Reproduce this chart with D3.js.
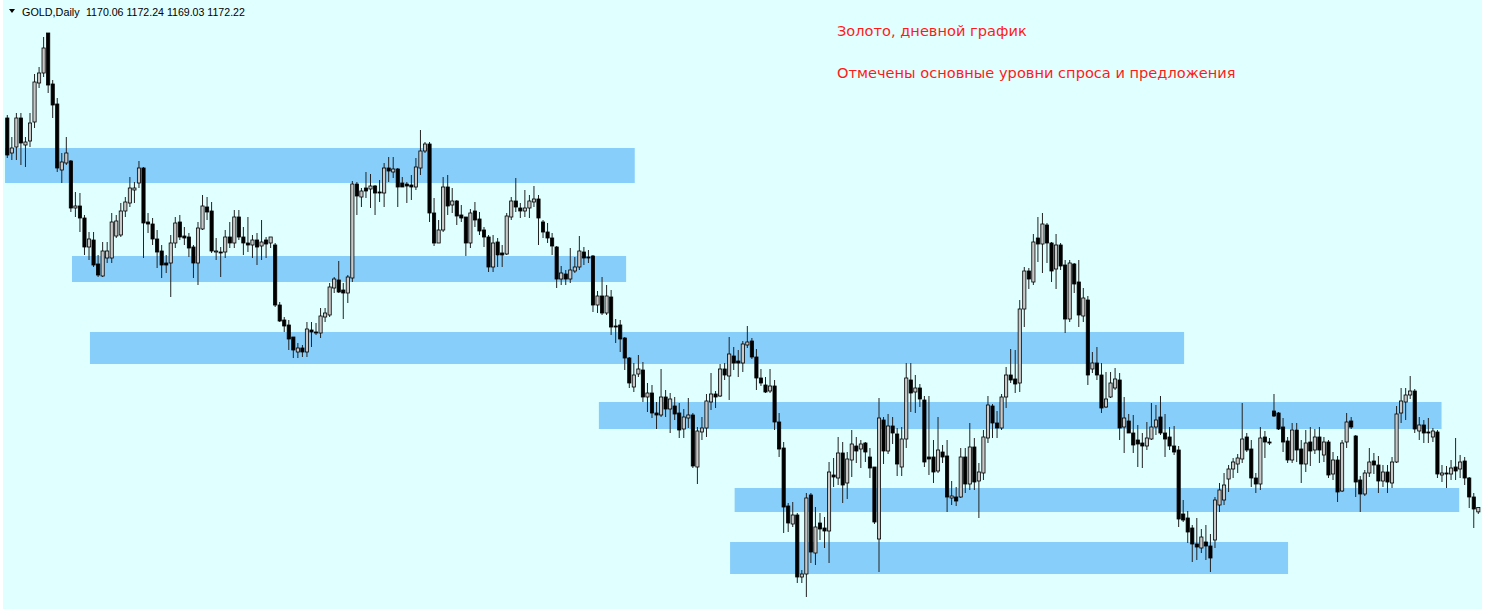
<!DOCTYPE html>
<html>
<head>
<meta charset="utf-8">
<script src="https://cdn.jsdelivr.net/npm/d3@7/dist/d3.min.js"></script>
<style>
  html, body { margin: 0; padding: 0; background: #fff; }
  svg { display: block; }
</style>
</head>
<body>
<svg id="chart" width="1491" height="610"></svg>
<script>
'use strict';

// GOLD, Daily -- OHLC, oldest first
var opens = [
  1367,1349.5,1352.5,1367,1353.5,1355.5,1365,1384.5,1389.5,1409.5,
  1384,1374,1341,1344.5,1345.5,1322,1323,1317,1302.5,1306,
  1294,1288,1297,1297,1308,1308.5,1320.5,1324.5,1331,1334.5,
  1342,1315,1314,1306.5,1300.5,1294.5,1294.5,1304.5,1315,1308,
  1307.5,1302.5,1294.5,1311.5,1322.5,1320.5,1300,1300,1300,1307.5,
  1304.5,1317.5,1307.5,1304.5,1303.5,1306,1303,1306,1304.5,1303.5,
  1273.5,1266,1263.5,1257.5,1250,1252,1250,1261,1260,1259.5,
  1267.5,1268.5,1282,1286,1281,1279.5,1287,1334,1327.5,1332,
  1331.5,1333,1330,1329.5,1342,1340,1341.5,1334.5,1334,1333.5,
  1332.5,1342,1350.5,1354,1319.5,1304.5,1311,1332.5,1323.5,1325.5,
  1318.5,1317.5,1304.5,1320.5,1316.5,1311,1307.5,1292.5,1305,1299.5,
  1299,1317.5,1325.5,1322,1320.5,1322,1325,1326.5,1315,1310,
  1307,1302.5,1286.5,1289,1286.5,1290.5,1292.5,1300,1297.5,1298,
  1273.5,1278,1269.5,1277.5,1263,1263.5,1257,1247,1232.5,1239,
  1241,1227.5,1229.5,1219.5,1218.5,1227.5,1221.5,1223,1219.5,1211.5,
  1217,1218.5,1192.5,1210,1212,1225,1229,1228,1241.5,1238,
  1248,1245.5,1244.5,1253.5,1255.5,1247.5,1237,1233.5,1230.5,1233,
  1215,1202,1173,1164,1168.5,1137.5,1139,1178.5,1149.5,1164.5,
  1162,1160.5,1188.5,1187,1199.5,1184.5,1196,1203,1201.5,1204.5,
  1197.5,1192.5,1156.5,1216,1200.5,1213,1209,1192.5,1206.5,1236,
  1230,1232,1226,1197.5,1197.5,1190.5,1200,1198,1177,1177.5,
  1177.5,1197.5,1184,1202.5,1185.5,1189.5,1207,1223,1214.5,1212,
  1227.5,1238.5,1236.5,1234.5,1271.5,1290.5,1285,1307,1304,1313.5,
  1304.5,1291.5,1303.5,1293.5,1266.5,1294,1285,1268,1276,1241.5,
  1244.5,1238.5,1222.5,1227.5,1232,1236,1212.5,1215.5,1209.5,1206,
  1204.5,1203,1206.5,1212.5,1217.5,1209.5,1207.5,1203,1201,1169,
  1167,1162,1154,1152,1155,1153,1156,1173.5,1176,1186.5,
  1191.5,1194,1196.5,1207.5,1201.5,1187,1184,1207.5,1205,1220.5,
  1219.5,1212.5,1205.5,1196,1211,1201.5,1194,1205,1201,1207.5,
  1198.5,1205,1189,1196,1180.5,1205,1215.5,1208,1186,1179,
  1189.5,1195.5,1193.5,1185.5,1190,1184.5,1195,1219.5,1225,1228.5,
  1230.5,1210.5,1213.5,1210,1207.5,1210,1188.5,1189.5,1189,1192.5,
  1191.5,1195.5,1187,1177.5,1170.06
];
var highs = [
  1368.5,1357.5,1369.5,1369.5,1357.5,1369.5,1389,1392.5,1407.5,1409.5,
  1386,1377,1349.5,1357.5,1346,1330,1329.5,1318.5,1310,1310,
  1298.5,1305,1305,1319.5,1318.5,1324.5,1327.5,1337.5,1335,1345.5,
  1342.5,1319.5,1317,1311,1303.5,1298.5,1308.5,1317.5,1318.5,1312.5,
  1309.5,1303.5,1315,1328.5,1327.5,1325,1307,1302.5,1311,1315,
  1321,1321,1312.5,1317.5,1308.5,1309.5,1316,1307.5,1307.5,1304.5,
  1275,1267.5,1266,1257.5,1254.5,1253.5,1265,1265,1264.5,1272,
  1272,1284.5,1287.5,1295.5,1284.5,1288.5,1335.5,1335,1332,1340,
  1339,1333.5,1336,1344.5,1347.5,1347.5,1342,1337.5,1335,1338.5,
  1347,1361,1355,1355,1327,1316,1337.5,1338.5,1332,1326,
  1323.5,1317.5,1321.5,1325,1320,1312.5,1308.5,1308.5,1307,1303.5,
  1319.5,1327.5,1337,1324.5,1331,1328.5,1333,1328.5,1316,1314.5,
  1309.5,1303,1293,1291,1302,1297.5,1308,1302.5,1301,1298.5,
  1280.5,1287.5,1283.5,1281,1266.5,1266,1257.5,1247.5,1244.5,1248.5,
  1245,1234.5,1233.5,1225,1241.5,1231,1229.5,1227.5,1224.5,1221.5,
  1227,1219.5,1212.5,1217.5,1229,1239.5,1230.5,1244,1244.5,1257.5,
  1252.5,1251,1255.5,1263,1257,1251.5,1241.5,1237.5,1241.5,1236,
  1219.5,1205,1174.5,1175,1169.5,1141,1179.5,1179.5,1172.5,1169.5,
  1167.5,1195,1197,1207.5,1205,1200,1211,1207.5,1206,1205,
  1202,1192.5,1227,1217.5,1219,1217.5,1212,1212.5,1244.5,1244.5,
  1238.5,1234,1228,1228,1206,1217.5,1203.5,1206,1185.5,1182.5,
  1202,1202,1214.5,1207,1194.5,1211,1228,1224,1220.5,1229,
  1242.5,1251.5,1251,1276,1292.5,1292,1309,1317.5,1319.5,1314.5,
  1305,1309,1304.5,1296,1296,1294.5,1296,1282,1278,1250,
  1252.5,1244.5,1240,1240,1242,1239.5,1227.5,1219,1218.5,1213.5,
  1209.5,1215,1224.5,1223.5,1228,1219,1212.5,1213,1203,1176,
  1170.5,1163.5,1167,1161.5,1163.5,1159,1177.5,1184.5,1189.5,1193.5,
  1197,1199,1224.5,1209.5,1206,1189.5,1212.5,1210.5,1207,1229,
  1220,1217,1207.5,1214.5,1214.5,1206,1211,1212.5,1211.5,1212.5,
  1207.5,1206,1200,1198,1206,1219.5,1217.5,1208.5,1188,1191,
  1202,1199.5,1198,1193.5,1193.5,1197.5,1223,1232,1232,1238,
  1231.5,1217.5,1216,1217,1212,1211,1193.5,1193,1196,1207,
  1198.5,1197.5,1187.5,1179.5,1172.24
];
var lows = [
  1347,1346,1346,1343.5,1342.5,1352.5,1362,1382,1387.5,1379.5,
  1367,1340,1334.5,1343.5,1320,1317.5,1310,1298.5,1296,1292.5,
  1287.5,1287.5,1294.5,1294.5,1307,1307.5,1317.5,1322.5,1324.5,1332,
  1297,1309.5,1303.5,1292,1287,1289.5,1277.5,1302,1306,1303.5,
  1297.5,1287,1283.5,1311,1316,1299.5,1296,1287.5,1297,1302,
  1302,1306,1298.5,1300,1297,1293.5,1296,1297,1302,1272.5,
  1265,1260,1251,1247,1247,1247.5,1247.5,1252.5,1258.5,1257,
  1265,1267.5,1279.5,1279.5,1266.5,1274.5,1285,1318.5,1322.5,1327,
  1322,1318.5,1325,1322.5,1335,1337,1322.5,1332.5,1324.5,1326,
  1331,1338.5,1349.5,1315,1303,1304.5,1310,1318.5,1319.5,1313.5,
  1315,1298,1302,1312.5,1308.5,1302.5,1290,1290,1292.5,1292.5,
  1298.5,1316,1320,1317,1317.5,1317,1322.5,1303.5,1307,1304.5,
  1298.5,1282,1283.5,1283.5,1284.5,1289.5,1291,1293.5,1294.5,1270,
  1269.5,1268.5,1268.5,1258.5,1254.5,1250,1241,1232,1230,1237.5,
  1225,1220,1217,1211.5,1217.5,1217.5,1209.5,1216,1207,1207,
  1212,1192,1184,1206,1207.5,1221,1222,1227.5,1236,1226,
  1241,1237.5,1240,1252,1246.5,1231,1233,1229.5,1229.5,1211,
  1197.5,1159.5,1160,1162.5,1134.5,1134.5,1127.5,1144.5,1143.5,1156,
  1152,1144.5,1182.5,1183.5,1174.5,1176.5,1187.5,1194.5,1192,1195,
  1187,1164,1140,1194,1199,1204,1188,1188,1202,1220,
  1219.5,1222.5,1192.5,1188.5,1184.5,1189.5,1194.5,1170,1173.5,1173,
  1177,1179.5,1181,1181,1167,1186,1204.5,1207,1207,1211,
  1222,1234.5,1229.5,1230,1262.5,1281.5,1283.5,1295,1289.5,1294.5,
  1285,1281.5,1291,1259.5,1265,1279.5,1262.5,1265,1233.5,1239.5,
  1236,1219.5,1222,1227,1231,1206,1199.5,1209.5,1199.5,1192.5,
  1192,1201,1206,1208.5,1208.5,1197.5,1201,1198.5,1162.5,1165,
  1154.5,1145,1146,1149.5,1146,1140,1152,1170,1173.5,1180,
  1187,1189.5,1194.5,1200,1182.5,1179.5,1181,1197,1203.5,1217.5,
  1211,1200,1194.5,1194.5,1195,1184.5,1190,1193,1199,1194.5,
  1195,1187,1186,1175,1180,1202,1211.5,1177.5,1170,1178,
  1187.5,1189,1179.5,1182.5,1179.5,1182,1194.5,1214.5,1216,1226.5,
  1209.5,1206,1204.5,1204.5,1205,1187,1185,1182,1186,1186,
  1187,1183.5,1172,1162,1169.03
];
var closes = [
  1348.5,1352,1367,1354.5,1355,1364.5,1385,1389.5,1402,1383.5,
  1373.5,1342,1345,1349.5,1322,1323,1317,1302.5,1306.5,1293.5,
  1288.5,1300.5,1300.5,1315,1315.5,1320.5,1325,1332,1332,1342,
  1314.5,1314,1306.5,1300,1293.5,1293.5,1304.5,1314.5,1307.5,1307,
  1302,1294.5,1312,1323,1320,1300.5,1300.5,1299.5,1307.5,1304.5,
  1317.5,1307.5,1304.5,1303.5,1306,1302.5,1305,1304,1307.5,1273.5,
  1265.5,1263,1256.5,1251,1252,1250,1261.5,1260,1259.5,1268,
  1269.5,1282.5,1286.5,1280,1279.5,1287.5,1334,1328,1330.5,1330.5,
  1333,1329.5,1329.5,1342,1340.5,1341.5,1332.5,1332.5,1333,1332.5,
  1342.5,1350.5,1354,1319.5,1304.5,1311,1332.5,1323,1325.5,1318,
  1317,1304.5,1319.5,1316,1310.5,1307.5,1292.5,1304.5,1298.5,1298.5,
  1318,1325.5,1322.5,1320.5,1322,1325.5,1326.5,1317,1310,1307,
  1303,1286.5,1289.5,1286.5,1291,1292.5,1300.5,1297,1297,1273.5,
  1278,1269.5,1278,1262.5,1262.5,1256.5,1247,1234.5,1238.5,1241.5,
  1227.5,1229.5,1219.5,1218.5,1227.5,1221.5,1226.5,1219,1211,1217.5,
  1218.5,1193,1210.5,1212,1225.5,1229,1227.5,1241.5,1238.5,1249,
  1244.5,1244.5,1254,1255,1247.5,1237,1234.5,1230,1233,1215,
  1201.5,1172.5,1164.5,1168.5,1137.5,1139,1177,1150,1162.5,1161.5,
  1160.5,1190,1187.5,1199.5,1183.5,1196.5,1204,1200.5,1204,1200,
  1192,1165,1217,1200.5,1213,1209.5,1194,1206.5,1237,1229.5,
  1232,1226.5,1195,1196.5,1190,1201,1197.5,1177.5,1178,1175.5,
  1197.5,1184,1202.5,1185,1190,1207.5,1223.5,1214.5,1212,1227.5,
  1238.5,1236,1234,1271.5,1290.5,1286.5,1305,1304,1314,1304.5,
  1290.5,1303.5,1293,1266.5,1294.5,1284,1268.5,1277,1238.5,1244.5,
  1238.5,1222,1226.5,1234.5,1236.5,1212,1217,1209.5,1203.5,1204,
  1203,1207,1212.5,1216,1209.5,1206.5,1203,1200,1166.5,1166,
  1160,1154,1152.5,1157.5,1153,1147,1176,1181,1183.5,1191.5,
  1195,1197,1206.5,1201,1187,1184,1207,1205,1204.5,1218,
  1211.5,1205,1196,1211,1201,1194,1204.5,1200.5,1207.5,1201,
  1205,1188.5,1196,1180,1204.5,1215,1212.5,1185,1179,1189.5,
  1195,1193.5,1185.5,1190,1185,1195,1219,1225.5,1228.5,1230.5,
  1211.5,1213.5,1209.5,1209.5,1210.5,1189,1189.5,1189,1192,1190.5,
  1195,1187,1177.5,1171.5,1172.22
];

// supply / demand zones: price top, price bottom, first bar, last bar
var zoneTops    = [1352,   1298,  1260,  1225,  1182,  1155];
var zoneBottoms = [1334.5, 1285,  1244,  1211.5, 1170, 1139];
var zoneFrom    = [-0.5,   14.25, 18.2,  130.3, 160.2, 159.2];
var zoneTo      = [138.2,  136.3, 259.2, 315.9, 319.8, 282.1];

var symbolLabel = "GOLD,Daily";
var noteLines = [
  "Золото, дневной график",
  "Отмечены основные уровни спроса и предложения"
];

var W = 1491, H = 610;
var svg = d3.select("#chart");

var candles = opens.map(function (o, i) {
  return { i: i, o: o, h: highs[i], l: lows[i], c: closes[i] };
});
var zones = zoneTops.map(function (t, i) {
  return { top: t, bottom: zoneBottoms[i], from: zoneFrom[i], to: zoneTo[i] };
});

var x = d3.scaleLinear().domain([0, candles.length - 1]).range([7.3, 1478.3]);
var y = d3.scaleLinear().domain([1121, 1426]).range([H, 0]);

// chart background
svg.append("rect")
  .attr("x", 3).attr("y", 0)
  .attr("width", 1479).attr("height", 609)
  .style("fill", "#e0ffff");

// zones go under the bars
svg.append("g").selectAll("rect")
  .data(zones)
  .join("rect")
  .attr("x", function (d) { return x(d.from); })
  .attr("width", function (d) { return x(d.to) - x(d.from); })
  .attr("y", function (d) { return y(d.top); })
  .attr("height", function (d) { return y(d.bottom) - y(d.top); })
  .style("fill", "#87cefa");

var bars = svg.append("g");

bars.selectAll("line")
  .data(candles)
  .join("line")
  .attr("x1", function (d) { return x(d.i); })
  .attr("x2", function (d) { return x(d.i); })
  .attr("y1", function (d) { return y(d.h); })
  .attr("y2", function (d) { return y(d.l); })
  .style("stroke", "#222")
  .style("stroke-width", 1);

bars.selectAll("rect")
  .data(candles)
  .join("rect")
  .attr("x", function (d) { return x(d.i) - 1.6; })
  .attr("width", 3.2)
  .attr("y", function (d) { return y(Math.max(d.o, d.c)); })
  .attr("height", function (d) { return Math.max(1, Math.abs(y(d.o) - y(d.c))); })
  .style("fill", function (d) { return d.c >= d.o ? "#c8c8c8" : "#000"; })
  .style("stroke", "#000")
  .style("stroke-width", 0.8);

// header: symbol and last bar values
var last = candles[candles.length - 1];
svg.append("path")
  .attr("d", "M9,9 L15,9 L12,13 Z")
  .style("fill", "#000");
svg.append("text")
  .attr("x", 22).attr("y", 16)
  .style("font-family", "Liberation Sans, Arial, sans-serif")
  .style("font-size", "10.8px")
  .style("fill", "#000")
  .text(symbolLabel);
svg.append("text")
  .attr("x", 86).attr("y", 16)
  .style("font-family", "Liberation Sans, Arial, sans-serif")
  .style("font-size", "10.6px")
  .style("fill", "#000")
  .text([last.o, last.h, last.l, last.c].map(function (v) { return v.toFixed(2); }).join(" "));

// red notes
svg.append("g").selectAll("text")
  .data(noteLines)
  .join("text")
  .attr("x", 837)
  .attr("y", function (d, i) { return 36 + i * 42; })
  .style("font-family", "DejaVu Sans, sans-serif")
  .style("font-size", "14.6px")
  .style("fill", "#ff1a1a")
  .text(function (d) { return d; });
</script>
</body>
</html>
